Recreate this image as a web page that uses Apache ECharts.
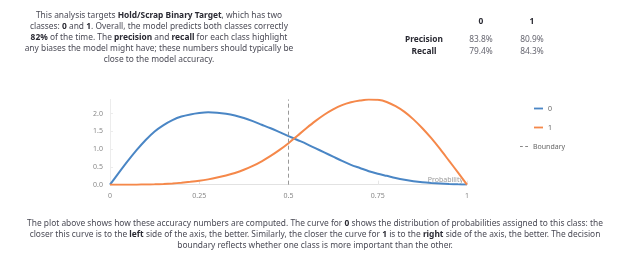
<!DOCTYPE html>
<html>
<head>
<meta charset="utf-8">
<script src="https://cdn.jsdelivr.net/npm/echarts@6/dist/echarts.min.js"></script>
<style>
  html, body { margin:0; padding:0; background:#fff; }
  #wrap { position:relative; width:630px; height:280px; overflow:hidden; font-family:"Noto Sans", sans-serif; }
  #chart { position:absolute; left:0; top:0; width:630px; height:280px; }
  .txt { position:absolute; white-space:nowrap; text-align:center; color:#4a4a55; font-size:8.4px; line-height:11px; }
  .txt b { color:#2a2a33; font-weight:700; }
  .cell { position:absolute; white-space:nowrap; font-size:8.4px; line-height:10px; transform:translateX(-50%); }
  .hd { font-weight:700; color:#2a2a33; }
  .num { color:#666670; }
</style>
</head>
<body>
<div id="wrap">
  <div id="chart"></div>
  <div class="txt" id="topText" style="left:0; width:318px; top:9px;">
    This analysis targets <b>Hold/Scrap Binary Target</b>, which has two<br>
    classes: <b>0</b> and <b>1</b>. Overall, the model predicts both classes correctly<br>
    <b>82%</b> of the time. The <b>precision</b> and <b>recall</b> for each class highlight<br>
    any biases the model might have; these numbers should typically be<br>
    close to the model accuracy.
  </div>
  <div id="table"></div>
  <div class="txt" id="bottomText" style="left:0; width:630px; top:217px;">
    The plot above shows how these accuracy numbers are computed. The curve for <b>0</b> shows the distribution of probabilities assigned to this class: the<br>
    closer this curve is to the <b>left</b> side of the axis, the better. Similarly, the closer the curve for <b>1</b> is to the <b>right</b> side of the axis, the better. The decision<br>
    boundary reflects whether one class is more important than the other.
  </div>
</div>
<script>
// ---- data ----
var classNames = ['0', '1'];
var metricNames = ['Precision', 'Recall'];
var precisionValues = ['83.8%', '80.9%'];
var recallValues = ['79.4%', '84.3%'];

var probability = [0, 0.025, 0.05, 0.075, 0.1, 0.125, 0.15, 0.175, 0.2, 0.225,
                   0.25, 0.275, 0.3, 0.325, 0.35, 0.375, 0.4, 0.425, 0.45, 0.475,
                   0.5, 0.525, 0.55, 0.575, 0.6, 0.625, 0.65, 0.675, 0.7, 0.725,
                   0.75, 0.775, 0.8, 0.825, 0.85, 0.875, 0.9, 0.925, 0.95, 0.975, 1.0];
var class0Density = [0, 0.34, 0.67, 0.98, 1.26, 1.50, 1.68, 1.82, 1.92, 1.98,
                     2.02, 2.04, 2.03, 2.00, 1.95, 1.88, 1.79, 1.69, 1.59, 1.48,
                     1.37, 1.26, 1.15, 1.03, 0.91, 0.79, 0.67, 0.56, 0.47, 0.38,
                     0.31, 0.25, 0.19, 0.14, 0.10, 0.07, 0.05, 0.035, 0.02, 0.01, 0.005];
var class1Density = [0, 0, 0, 0.001, 0.004, 0.01, 0.02, 0.035, 0.055, 0.08,
                     0.11, 0.15, 0.20, 0.26, 0.33, 0.42, 0.53, 0.66, 0.81, 0.98,
                     1.17, 1.38, 1.59, 1.79, 1.97, 2.12, 2.24, 2.32, 2.37, 2.40,
                     2.39, 2.33, 2.21, 2.05, 1.84, 1.59, 1.31, 1.00, 0.67, 0.34, 0];
var boundary = 0.5;
var xTicks = [0, 0.25, 0.5, 0.75, 1];
var yTicks = [0.0, 0.5, 1.0, 1.5, 2.0];

// ---- table (text) ----
(function(){
  var t = document.getElementById('table');
  var colX = [481, 532], labelX = 424, rowY = [34, 46], headY = 16;
  var html = '';
  classNames.forEach(function(c, i){
    html += '<div class="cell hd" style="left:'+colX[i]+'px;top:'+headY+'px">'+c+'</div>';
  });
  var rows = [precisionValues, recallValues];
  metricNames.forEach(function(m, r){
    html += '<div class="cell hd" style="left:'+labelX+'px;top:'+rowY[r]+'px">'+m+'</div>';
    rows[r].forEach(function(v, i){
      html += '<div class="cell num" style="left:'+colX[i]+'px;top:'+rowY[r]+'px">'+v+'</div>';
    });
  });
  t.innerHTML = html;
})();

function pairs(xs, ys){ return xs.map(function(x, i){ return [x, ys[i]]; }); }

var FONT = '"Noto Sans", sans-serif';
var LINE_ICON = 'path://M0,0L10,0L10,2L0,2Z';
var DASH_ICON = 'path://M0,0L3.5,0L3.5,1L0,1Z M6.5,0L10,0L10,1L6.5,1Z';
var legendText = { fontSize:7, color:'#666', fontFamily: FONT };
var chart = echarts.init(document.getElementById('chart'), null, {renderer:'canvas'});
chart.setOption({
  animation: false,
  textStyle: { fontFamily: FONT },
  grid: { left: 110, right: 163, top: 99.5, bottom: 95.3 },
  legend: [
    { orient:'vertical', left:529, top:100, itemWidth:9, itemHeight:7,
      data:[{ name:classNames[0], icon:LINE_ICON }], textStyle:legendText },
    { orient:'vertical', left:529, top:119, itemWidth:9, itemHeight:7,
      data:[{ name:classNames[1], icon:LINE_ICON }], textStyle:legendText },
    { orient:'vertical', left:515, top:138, itemWidth:8, itemHeight:7,
      data:[{ name:'Boundary', icon:DASH_ICON }], textStyle:legendText }
  ],
  xAxis: {
    type:'value', min:xTicks[0], max:xTicks[xTicks.length-1], interval:0.25,
    name:'Probability', nameLocation:'end', nameGap:-4,
    nameTextStyle:{ align:'right', verticalAlign:'bottom', fontSize:7, color:'#999', padding:[0,0,1,0], fontFamily: FONT },
    axisLine:{ lineStyle:{ color:'#e2e2e2', width:1 } },
    axisTick:{ show:true, inside:true, length:4, lineStyle:{ color:'#e6e6e6' } },
    axisLabel:{ fontSize:7, color:'#888', margin:8, fontFamily: FONT },
    splitLine:{ show:false }
  },
  yAxis: {
    type:'value', min:yTicks[0], max:2.4, interval:0.5,
    axisLine:{ show:true, lineStyle:{ color:'#ececec', width:1 } },
    axisTick:{ show:true, inside:true, length:3, lineStyle:{ color:'#ececec' } },
    axisLabel:{ fontSize:7, color:'#888', margin:7, showMaxLabel:false, fontFamily: FONT,
      formatter:function(v){ return v.toFixed(1); } },
    splitLine:{ show:false }
  },
  series: [
    { name:classNames[0], type:'line', data:pairs(probability, class0Density), smooth:0.3,
      symbol:'none', showSymbol:false, color:'#4a86c5', lineStyle:{ width:2, color:'#4a86c5' } },
    { name:classNames[1], type:'line', data:pairs(probability, class1Density), smooth:0.3,
      symbol:'none', showSymbol:false, color:'#f5884a', lineStyle:{ width:2, color:'#f5884a' } },
    { name:'Boundary', type:'line', data:[], symbol:'none', color:'#888',
      lineStyle:{ width:1, type:[2,2], color:'#888' },
      markLine:{ silent:true, symbol:'none', label:{ show:false },
        lineStyle:{ type:[4,3], color:'#999', width:1 },
        data:[{ xAxis: boundary }] } }
  ]
});
</script>
</body>
</html>
